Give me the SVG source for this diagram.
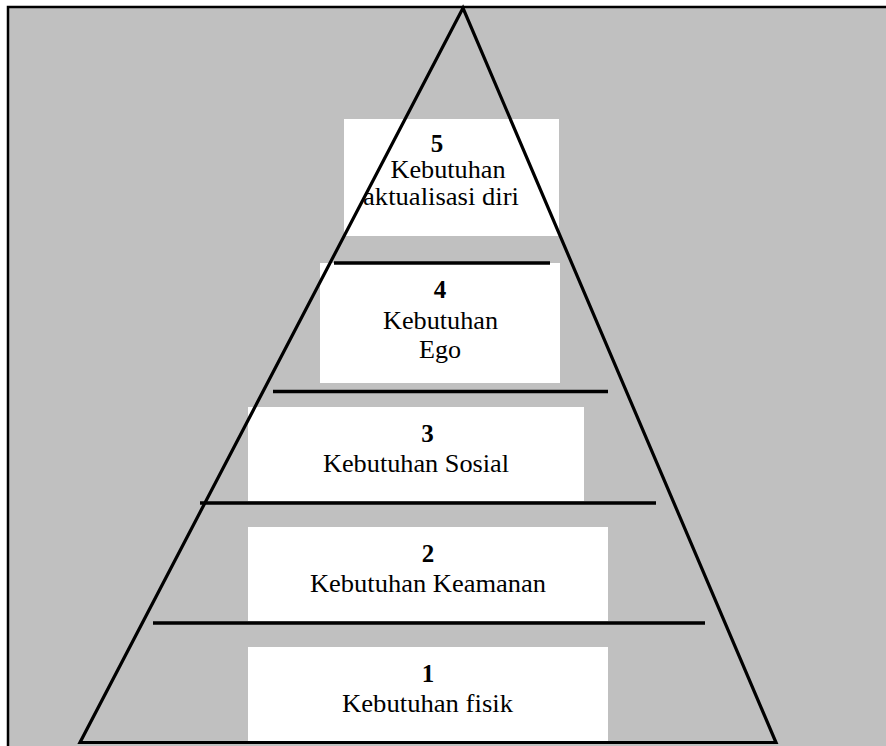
<svg xmlns="http://www.w3.org/2000/svg" width="886" height="746" viewBox="0 0 886 746">
  <style>
    .panel { fill: #c0c0c0; stroke: #000; stroke-width: 2.5; }
    .box { fill: #fff; }
    .num { font-family: "Liberation Serif", "Times New Roman", serif; font-size: 25px; font-weight: bold; fill: #000; text-anchor: middle; }
    .lbl { font-family: "Liberation Serif", "Times New Roman", serif; font-size: 26px; fill: #000; text-anchor: middle; }
    .edge { fill: none; stroke: #000; stroke-width: 3.2; stroke-linejoin: miter; }
    .sep { stroke: #000; stroke-width: 3.5; }
  </style>

  <rect width="886" height="746" fill="#fff"/>
  <!-- grey panel, runs off the right and bottom edges -->
  <rect class="panel" x="8" y="7" width="900" height="760"/>

  <!-- pyramid levels, bottom to top -->
  <g id="level-1">
    <rect class="box" x="248" y="647" width="360" height="95"/>
    <text class="num" x="428" y="682">1</text>
    <text class="lbl" x="427.5" y="712" textLength="171" lengthAdjust="spacingAndGlyphs">Kebutuhan fisik</text>
  </g>
  <g id="level-2">
    <rect class="box" x="248" y="527" width="360" height="94"/>
    <text class="num" x="428" y="562">2</text>
    <text class="lbl" x="428" y="592" textLength="236" lengthAdjust="spacingAndGlyphs">Kebutuhan Keamanan</text>
  </g>
  <g id="level-3">
    <rect class="box" x="248" y="407" width="336" height="94"/>
    <text class="num" x="427.5" y="442">3</text>
    <text class="lbl" x="416" y="472" textLength="186" lengthAdjust="spacingAndGlyphs">Kebutuhan Sosial</text>
  </g>
  <g id="level-4">
    <rect class="box" x="320" y="263" width="240" height="120"/>
    <text class="num" x="440" y="298">4</text>
    <text class="lbl" x="440.5" y="329" textLength="115" lengthAdjust="spacingAndGlyphs">Kebutuhan</text>
    <text class="lbl" x="440" y="358" textLength="42" lengthAdjust="spacingAndGlyphs">Ego</text>
  </g>
  <g id="level-5">
    <rect class="box" x="344" y="119" width="215" height="117"/>
    <text class="num" x="437" y="152">5</text>
    <text class="lbl" x="448" y="178" textLength="115" lengthAdjust="spacingAndGlyphs">Kebutuhan</text>
    <text class="lbl" x="441" y="205" textLength="156" lengthAdjust="spacingAndGlyphs">aktualisasi diri</text>
  </g>

  <!-- pyramid outline and level dividers -->
  <g id="connectors">
    <polygon class="edge" points="463,8 80,742.5 776,742.5"/>
    <line class="sep" x1="334" y1="263" x2="550" y2="263"/>
    <line class="sep" x1="273" y1="391.5" x2="608" y2="391.5"/>
    <line class="sep" x1="200" y1="503" x2="656" y2="503"/>
    <line class="sep" x1="153" y1="623" x2="705" y2="623"/>
  </g>
</svg>
